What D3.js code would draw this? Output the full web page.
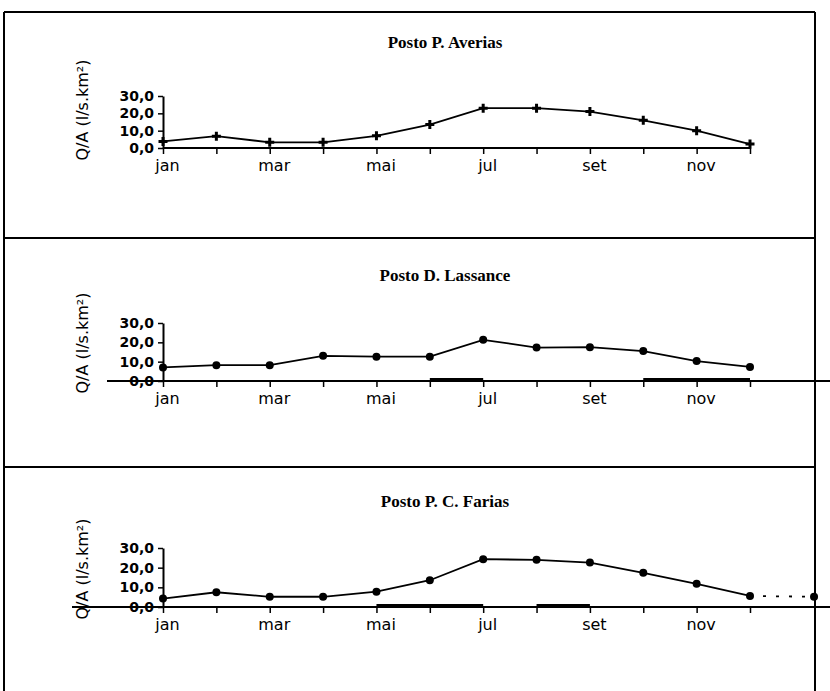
<!DOCTYPE html>
<html>
<head>
<meta charset="utf-8">
<script src="https://cdn.jsdelivr.net/npm/d3@7/dist/d3.min.js"></script>
<style>
  html, body { margin: 0; padding: 0; background: #fff; }
  svg { display: block; }
</style>
</head>
<body>
<svg id="chart" width="830" height="691"></svg>
<script>
// ---- data ----
const months = ["jan","fev","mar","abr","mai","jun","jul","ago","set","out","nov","dez"];
const monthLabels = ["jan","","mar","","mai","","jul","","set","","nov",""];
const yTicks = [0, 10, 20, 30];
const yTickLabels = ["0,0", "10,0", "20,0", "30,0"];
const titles = ["Posto P. Averias", "Posto D. Lassance", "Posto P. C. Farias"];
const yLabel = "Q/A (l/s.km²)";

const averias  = [3.8, 6.8, 3.3, 3.3, 7.0, 13.5, 23.0, 23.0, 21.0, 16.0, 10.0, 2.3];
const lassance = [7.0, 8.2, 8.2, 13.0, 12.6, 12.6, 21.3, 17.3, 17.5, 15.5, 10.3, 7.3];
const farias   = [4.3, 7.5, 5.2, 5.2, 7.8, 13.6, 24.3, 24.0, 22.6, 17.4, 11.8, 5.6];
const fariasNext = 5.2;   // jan of the following year (dotted continuation)

// stretches where a second, near-zero trace thickens the axis
const lassanceLow = [["jun", "jul"], ["out", "dez"]];
const fariasLow   = [["mai", "jul"], ["ago", "set"]];

const panels = [
  { title: titles[0], values: averias,  zero: 148, ytop: 96,  marker: "cross", xStart: null, extend: false, low: [] },
  { title: titles[1], values: lassance, zero: 381, ytop: 323, marker: "dot",   xStart: 107,  extend: true,  low: lassanceLow },
  { title: titles[2], values: farias,   zero: 607, ytop: 548, marker: "dot",   xStart: 72,   extend: true,  low: fariasLow, next: fariasNext }
];

const svg = d3.select("#chart");
const W = 830;

// panel frames
const frameLeft = 4, frameRight = 815;
[12, 238, 467].forEach(yy => {
  svg.append("line").attr("x1", frameLeft).attr("x2", frameRight).attr("y1", yy).attr("y2", yy)
    .attr("stroke", "#000").attr("stroke-width", 2);
});
[frameLeft, frameRight].forEach(xx => {
  svg.append("line").attr("x1", xx).attr("x2", xx).attr("y1", 12).attr("y2", 691)
    .attr("stroke", "#000").attr("stroke-width", 2);
});

const x = d3.scalePoint().domain(months).range([163, 750]);
const step = x.step();

panels.forEach((p) => {
  const g = svg.append("g");
  const y = d3.scaleLinear().domain([0, 30]).range([p.zero, p.ytop]);

  // title
  g.append("text")
    .attr("x", 445).attr("y", p.zero - 100)
    .attr("text-anchor", "middle")
    .attr("font-family", "'Liberation Serif', 'DejaVu Serif', serif")
    .attr("font-size", 17).attr("font-weight", "bold")
    .text(p.title);

  // y label
  g.append("text")
    .attr("transform", `translate(88,${p.zero - 38}) rotate(-90)`)
    .attr("text-anchor", "middle")
    .attr("font-family", "'DejaVu Sans', sans-serif")
    .attr("font-size", 16)
    .text(yLabel);

  // x axis base line
  const xEnd = p.extend ? W : x("dez");
  const xStart = p.xStart === null ? x("jan") : p.xStart;
  g.append("line").attr("x1", xStart).attr("x2", xEnd)
    .attr("y1", y(0)).attr("y2", y(0)).attr("stroke", "#000").attr("stroke-width", 2);

  // thickened near-zero stretches
  p.low.forEach(([a, b]) => {
    g.append("line").attr("x1", x(a)).attr("x2", x(b))
      .attr("y1", y(0) - 1).attr("y2", y(0) - 1)
      .attr("stroke", "#000").attr("stroke-width", 4);
  });

  // y axis
  const yAxis = d3.axisLeft(y).tickValues(yTicks)
    .tickFormat(d => yTickLabels[yTicks.indexOf(d)])
    .tickSize(5).tickSizeOuter(0);
  const ya = g.append("g").attr("transform", `translate(${x("jan")},0)`).call(yAxis);
  ya.select(".domain").attr("stroke-width", 2);
  ya.selectAll(".tick line").attr("stroke-width", 1.5);
  ya.selectAll("text").attr("font-family", "'DejaVu Sans', sans-serif")
    .attr("font-size", 14).attr("font-weight", "bold").attr("dx", -1);

  // x axis ticks / labels
  const xAxis = d3.axisBottom(x).tickSize(6).tickSizeOuter(0)
    .tickFormat(d => monthLabels[months.indexOf(d)]);
  const xa = g.append("g").attr("transform", `translate(0,${y(0)})`).call(xAxis);
  xa.select(".domain").remove();
  xa.selectAll(".tick line").attr("stroke-width", 1.5);
  xa.selectAll("text").attr("font-family", "'DejaVu Sans', sans-serif")
    .attr("font-size", 16).attr("dy", "0.85em").attr("dx", 4);

  // series line
  const line = d3.line().x((d, k) => x(months[k])).y(d => y(d));
  g.append("path").datum(p.values).attr("d", line)
    .attr("fill", "none").attr("stroke", "#000").attr("stroke-width", 1.8);

  if (p.next !== undefined) {
    g.append("path")
      .attr("d", d3.line()([[x("dez"), y(p.values[11])], [x("dez") + step * 1.2, y(p.next)]]))
      .attr("fill", "none").attr("stroke", "#000").attr("stroke-width", 1.8)
      .attr("stroke-dasharray", "3,10");
    g.append("circle").attr("cx", x("dez") + step * 1.2).attr("cy", y(p.next)).attr("r", 4);
  }

  // markers
  if (p.marker === "cross") {
    g.selectAll(".m").data(p.values).enter().append("path")
      .attr("transform", (d, k) => `translate(${x(months[k])},${y(d)})`)
      .attr("d", d3.symbol().type(d3.symbolCross).size(45))
      .attr("fill", "#000");
  } else {
    g.selectAll(".m").data(p.values).enter().append("circle")
      .attr("cx", (d, k) => x(months[k])).attr("cy", d => y(d))
      .attr("r", 4).attr("fill", "#000");
  }
});
</script>
</body>
</html>
